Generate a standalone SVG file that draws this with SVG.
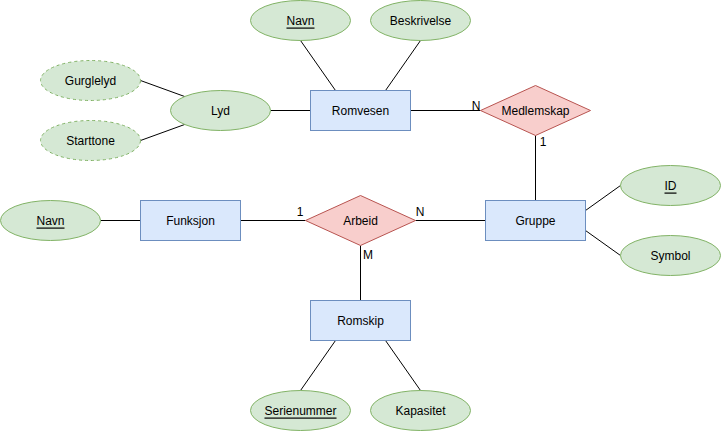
<svg xmlns="http://www.w3.org/2000/svg" width="721" height="431" viewBox="0 0 721 431">
<style>
.attr{fill:#d5e8d4;stroke:#82b366;stroke-width:1}
.dash{stroke-dasharray:3 3}
.ent{fill:#dae8fc;stroke:#6c8ebf;stroke-width:1}
.rel{fill:#f8cecc;stroke:#b85450;stroke-width:1}
text{font-family:"Liberation Sans",Arial,sans-serif;font-size:12px;fill:#000}
.c{text-anchor:middle;dominant-baseline:central}
.u{text-decoration:underline}
.edges line{stroke:#000;stroke-width:1}
</style>
<rect width="721" height="431" fill="#fff"/>
<g class="edges" id="connectors">
<line x1="140.5" y1="80.5" x2="186" y2="97"/>
<line x1="140.5" y1="140.5" x2="186" y2="124"/>
<line x1="270.5" y1="110.5" x2="310.5" y2="110.5"/>
<line x1="300.5" y1="40.5" x2="335.5" y2="90.5"/>
<line x1="420.5" y1="40.5" x2="385.5" y2="90.5"/>
<line x1="410.5" y1="110.5" x2="480.5" y2="110.5"/>
<line x1="535.5" y1="135.5" x2="535.5" y2="200.5"/>
<line x1="100.5" y1="220.5" x2="140.5" y2="220.5"/>
<line x1="240.5" y1="220.5" x2="305.5" y2="220.5"/>
<line x1="415.5" y1="220.5" x2="485.5" y2="220.5"/>
<line x1="360.5" y1="245.5" x2="360.5" y2="300.5"/>
<line x1="585.5" y1="210.5" x2="620.5" y2="185.5"/>
<line x1="585.5" y1="230.5" x2="620.5" y2="255.5"/>
<line x1="335.5" y1="340.5" x2="300.5" y2="390.5"/>
<line x1="385.5" y1="340.5" x2="420.5" y2="390.5"/>
<text x="476" y="106" class="c">N</text>
<text x="543" y="142" class="c">1</text>
<text x="300" y="212" class="c">1</text>
<text x="420" y="212" class="c">N</text>
<text x="368" y="255" class="c">M</text>
</g>
<g id="navn1"><ellipse class="attr" cx="300.5" cy="20.5" rx="50" ry="20"/><text x="300.5" y="20.5" class="c u">Navn</text></g>
<g id="beskrivelse"><ellipse class="attr" cx="420.5" cy="20.5" rx="50" ry="20"/><text x="420.5" y="20.5" class="c">Beskrivelse</text></g>
<g id="gurglelyd"><ellipse class="attr dash" cx="90.5" cy="80.5" rx="50" ry="20"/><text x="90.5" y="80.5" class="c">Gurglelyd</text></g>
<g id="starttone"><ellipse class="attr dash" cx="90.5" cy="140.5" rx="50" ry="20"/><text x="90.5" y="140.5" class="c">Starttone</text></g>
<g id="lyd"><ellipse class="attr" cx="220.5" cy="110.5" rx="50" ry="20"/><text x="220.5" y="110.5" class="c">Lyd</text></g>
<g id="romvesen"><rect class="ent" x="310.5" y="90.5" width="100" height="40"/><text x="360.5" y="110.5" class="c">Romvesen</text></g>
<g id="medlemskap"><polygon class="rel" points="535.5,85.5 590.5,110.5 535.5,135.5 480.5,110.5"/><text x="535.5" y="110.5" class="c">Medlemskap</text></g>
<g id="navn2"><ellipse class="attr" cx="50.5" cy="220.5" rx="50" ry="20"/><text x="50.5" y="220.5" class="c u">Navn</text></g>
<g id="funksjon"><rect class="ent" x="140.5" y="200.5" width="100" height="40"/><text x="190.5" y="220.5" class="c">Funksjon</text></g>
<g id="arbeid"><polygon class="rel" points="360.5,195.5 415.5,220.5 360.5,245.5 305.5,220.5"/><text x="360.5" y="220.5" class="c">Arbeid</text></g>
<g id="gruppe"><rect class="ent" x="485.5" y="200.5" width="100" height="40"/><text x="535.5" y="220.5" class="c">Gruppe</text></g>
<g id="id"><ellipse class="attr" cx="670.5" cy="185.5" rx="50" ry="20"/><text x="670.5" y="185.5" class="c u">ID</text></g>
<g id="symbol"><ellipse class="attr" cx="670.5" cy="255.5" rx="50" ry="20"/><text x="670.5" y="255.5" class="c">Symbol</text></g>
<g id="romskip"><rect class="ent" x="310.5" y="300.5" width="100" height="40"/><text x="360.5" y="320.5" class="c">Romskip</text></g>
<g id="serienummer"><ellipse class="attr" cx="300.5" cy="410.5" rx="50" ry="20"/><text x="300.5" y="410.5" class="c u">Serienummer</text></g>
<g id="kapasitet"><ellipse class="attr" cx="420.5" cy="410.5" rx="50" ry="20"/><text x="420.5" y="410.5" class="c">Kapasitet</text></g>
</svg>
